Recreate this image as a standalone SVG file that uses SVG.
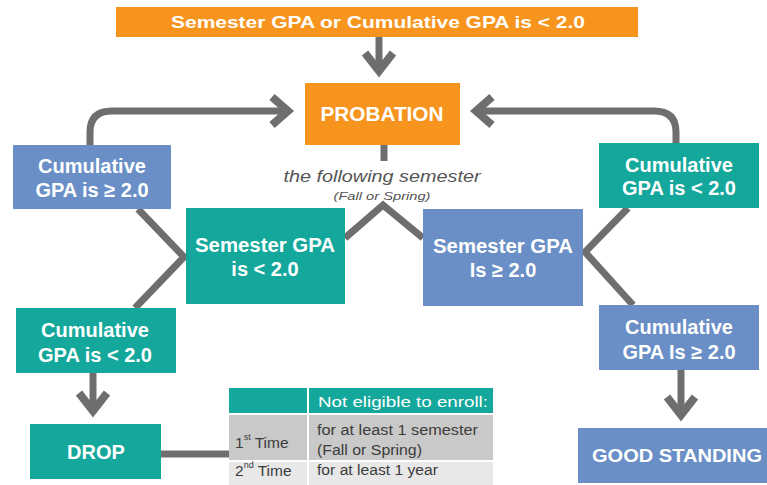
<svg xmlns="http://www.w3.org/2000/svg" width="767" height="485" viewBox="0 0 767 485">
<style>
.orange{fill:#F7941D}
.blue{fill:#6A8FC6}
.teal{fill:#14A89C}
.lbl{font-family:"Liberation Sans",Arial,sans-serif;font-weight:bold;fill:#fff;text-anchor:middle;dominant-baseline:central}
.big{font-size:20px}
.conn{fill:none;stroke:#6E6E6E;stroke-width:7}
.chev{fill:none;stroke:#6E6E6E;stroke-width:8;stroke-linejoin:miter;stroke-linecap:butt}
.note{font-family:"Liberation Sans",Arial,sans-serif;font-style:italic;fill:#555;text-anchor:middle;dominant-baseline:central}
.tbl{font-family:"Liberation Sans",Arial,sans-serif;font-size:14px;fill:#3c3c3c;dominant-baseline:central}
.c1{font-size:15.5px}
</style>
<rect width="767" height="485" fill="#fff"/>
<g id="connectors">
<line class="conn" x1="379" y1="37" x2="379" y2="72"/>
<polyline class="chev" points="365,53 379,71 393,53"/>
<path class="conn" d="M90 146 L90 132 Q90 111 112 111 L285 111"/>
<polyline class="chev" points="272,97 288,111 272,125"/>
<path class="conn" d="M676 144 L676 132 Q676 111 654 111 L479 111"/>
<polyline class="chev" points="492,97 476,111 492,125"/>
<line class="conn" x1="384" y1="145" x2="384" y2="161"/>
<polyline class="conn" points="345,238 383,205 423,238"/>
<polyline class="conn" points="138,209 184,257 135,308"/>
<polyline class="conn" points="628,208 585,252 633,305"/>
<line class="conn" x1="93" y1="373" x2="93" y2="412"/>
<polyline class="chev" points="79,393 93,411 107,393"/>
<line class="conn" x1="681" y1="370" x2="681" y2="416"/>
<polyline class="chev" points="667,397 681,415 695,397"/>
<line class="conn" x1="161" y1="454" x2="229" y2="454"/>
</g>
<g id="top">
<rect class="orange" x="116" y="7" width="522" height="30"/>
<text class="lbl" x="378" y="22" font-size="17" textLength="414" lengthAdjust="spacingAndGlyphs">Semester GPA or Cumulative GPA  is &lt; 2.0</text>
</g>
<g id="probation">
<rect class="orange" x="305" y="83" width="155" height="62"/>
<text class="lbl" x="382" y="114" font-size="20" textLength="123" lengthAdjust="spacingAndGlyphs">PROBATION</text>
</g>
<g id="note">
<text class="note" x="382" y="176" font-size="16" textLength="197" lengthAdjust="spacingAndGlyphs">the following semester</text>
<text class="note" x="382" y="196" font-size="11" textLength="97" lengthAdjust="spacingAndGlyphs">(Fall or Spring)</text>
</g>
<g id="cum-ge-left">
<rect class="blue" x="13" y="145" width="158" height="64"/>
<text class="lbl big" x="92" y="166">Cumulative</text>
<text class="lbl big" x="92" y="190">GPA is ≥ 2.0</text>
</g>
<g id="sem-lt">
<rect class="teal" x="186" y="208" width="159" height="96"/>
<text class="lbl big" x="265" y="245" textLength="140" lengthAdjust="spacingAndGlyphs">Semester GPA</text>
<text class="lbl big" x="265" y="269">is &lt; 2.0</text>
</g>
<g id="cum-lt-left">
<rect class="teal" x="16" y="308" width="160" height="65"/>
<text class="lbl big" x="95" y="330">Cumulative</text>
<text class="lbl big" x="95" y="355">GPA is &lt; 2.0</text>
</g>
<g id="drop">
<rect class="teal" x="30" y="424" width="131" height="55"/>
<text class="lbl big" x="96" y="452">DROP</text>
</g>
<g id="sem-ge">
<rect class="blue" x="423" y="209" width="160" height="97"/>
<text class="lbl big" x="503" y="246" textLength="140" lengthAdjust="spacingAndGlyphs">Semester GPA</text>
<text class="lbl big" x="503" y="270">Is ≥ 2.0</text>
</g>
<g id="cum-lt-right">
<rect class="teal" x="599" y="143" width="160" height="65"/>
<text class="lbl big" x="679" y="165">Cumulative</text>
<text class="lbl big" x="679" y="188">GPA is &lt; 2.0</text>
</g>
<g id="cum-ge-right">
<rect class="blue" x="599" y="305" width="160" height="65"/>
<text class="lbl big" x="679" y="327">Cumulative</text>
<text class="lbl big" x="679" y="352">GPA Is ≥ 2.0</text>
</g>
<g id="good-standing">
<rect class="blue" x="578" y="428" width="189" height="55"/>
<text class="lbl" x="677" y="455" font-size="19" textLength="170" lengthAdjust="spacingAndGlyphs">GOOD STANDING</text>
</g>
<g id="table">
<rect class="teal" x="229" y="388" width="78" height="25"/>
<rect class="teal" x="309" y="388" width="184" height="25"/>
<rect fill="#C9C9C9" x="229" y="415" width="78" height="45"/>
<rect fill="#C9C9C9" x="309" y="415" width="184" height="45"/>
<rect fill="#E8E8E8" x="229" y="462" width="78" height="23"/>
<rect fill="#E8E8E8" x="309" y="462" width="184" height="23"/>
<text class="tbl" x="318" y="402" style="fill:#fff" textLength="170" lengthAdjust="spacingAndGlyphs">Not eligible to enroll:</text>
<text class="tbl c1" x="235" y="442">1<tspan font-size="9" dy="-5">st</tspan><tspan dy="5"> Time</tspan></text>
<text class="tbl" x="317" y="430" textLength="161" lengthAdjust="spacingAndGlyphs">for at least 1 semester</text>
<text class="tbl" x="317" y="450" textLength="105" lengthAdjust="spacingAndGlyphs">(Fall or Spring)</text>
<text class="tbl c1" x="235" y="470">2<tspan font-size="9" dy="-5">nd</tspan><tspan dy="5"> Time</tspan></text>
<text class="tbl" x="317" y="470" textLength="121" lengthAdjust="spacingAndGlyphs">for at least 1 year</text>
</g>
</svg>
